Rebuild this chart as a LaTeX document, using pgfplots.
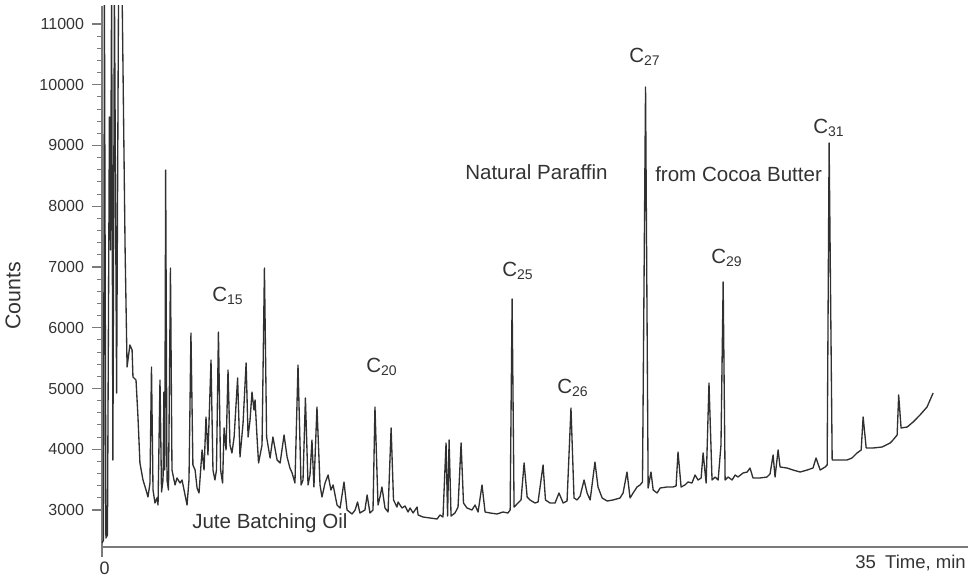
\documentclass[border=0pt]{standalone}
\usepackage{fontspec}
\setmainfont{Liberation Sans}
\usepackage{pgfplots}
\pgfplotsset{compat=1.18}
\definecolor{trace}{HTML}{303030}
\definecolor{axgray}{HTML}{7A7A7A}
\definecolor{txt}{HTML}{333333}
\newcommand{\Cn}[1]{C\raisebox{-0.12em}{\fontsize{10.5}{12}\selectfont #1}}
\begin{document}
\begin{tikzpicture}
\useasboundingbox (-76.5pt,-24pt) rectangle (651.75pt,410.25pt);
\begin{axis}[
  at={(0pt,0pt)}, anchor=south west,
  scale only axis, width=649.5pt, height=405.75pt,
  xmin=0, xmax=39.72, ymin=2391, ymax=11296,
  axis x line=bottom, axis y line=left,
  axis line style={axgray, line width=1pt, -},
  xtick={0}, ytick={3000,4000,...,11000},
  minor y tick num=4,
  scaled y ticks=false,
  tick align=outside,
  major tick length=7.5pt, minor tick length=3.75pt,
  tick style={axgray, line width=0.8pt},
  /pgf/number format/assume math mode=true,
  /pgf/number format/set thousands separator={},
  yticklabel style={font=\fontsize{12}{14}\selectfont, text=txt, xshift=-2.5pt},
  xticklabel style={font=\fontsize{13.5}{15}\selectfont, text=txt, xshift=2pt},
  clip=true,
]
\addplot[trace, line width=1pt, line join=round] table {
0.00 2457
0.07 2506
0.11 11600
0.18 2539
0.25 2589
0.34 9469
0.39 7280
0.44 11600
0.50 3823
0.57 11600
0.67 4926
0.76 11600
0.92 11600
1.06 7280
1.15 5354
1.28 5716
1.38 5634
1.42 5189
1.56 5140
1.65 4531
1.74 3774
1.88 3494
2.02 3329
2.11 3214
2.20 3444
2.27 5354
2.34 3329
2.43 3115
2.52 3198
2.57 3082
2.66 5140
2.73 3296
2.80 3494
2.84 4942
2.88 3658
2.92 8596
2.98 3494
3.05 3329
3.14 6983
3.21 3658
3.35 3412
3.44 3527
3.58 3444
3.67 3494
3.81 3247
3.90 3082
3.99 3494
4.08 5913
4.17 3741
4.27 3658
4.36 3362
4.45 3280
4.59 3988
4.68 3658
4.77 4531
4.86 3905
5.00 5469
5.09 3658
5.18 3494
5.25 3658
5.34 5930
5.44 3658
5.53 3444
5.60 4350
5.69 3988
5.78 5304
5.87 4070
5.96 3938
6.06 4202
6.22 5173
6.33 3872
6.47 4432
6.61 5420
6.70 4202
6.79 4481
6.88 4942
6.97 4646
7.02 4811
7.11 4202
7.18 3774
7.34 4070
7.45 6983
7.55 4202
7.71 3856
7.84 4202
8.03 3823
8.17 3774
8.35 4235
8.49 3872
8.62 3691
8.72 3609
8.85 3444
8.99 5387
9.13 3412
9.22 3494
9.33 4844
9.45 3412
9.54 3576
9.63 4152
9.72 3379
9.86 4695
10.00 3412
10.09 3214
10.23 3444
10.37 3576
10.50 3329
10.60 3412
10.78 3082
10.92 3033
11.10 3461
11.24 3000
11.47 2934
11.61 3000
11.72 3132
11.83 2951
12.06 3000
12.16 3247
12.29 2951
12.43 3000
12.52 4695
12.66 3082
12.75 3214
12.84 3379
12.98 3033
13.12 2967
13.26 4350
13.37 3165
13.53 3049
13.58 3132
13.76 3033
13.90 3066
14.04 2967
14.13 3033
14.27 2951
14.45 3049
14.50 2918
14.72 2885
15.05 2868
15.37 2852
15.50 2918
15.64 2885
15.78 4103
15.85 2901
15.92 4152
16.01 2901
16.19 2951
16.33 3049
16.47 4103
16.58 3115
16.74 3033
16.97 3000
17.11 3082
17.25 2967
17.43 3412
17.57 2967
17.80 2951
18.12 2934
18.39 2967
18.62 2951
18.72 3000
18.81 6473
18.90 3049
19.08 3115
19.22 3165
19.36 3774
19.50 3214
19.63 3165
19.86 3115
20.00 3132
20.23 3741
20.34 3165
20.55 3115
20.78 3115
20.96 3280
21.15 3115
21.33 3148
21.51 4679
21.65 3198
21.79 3165
21.93 3230
22.11 3494
22.25 3280
22.39 3165
22.61 3790
22.75 3379
22.94 3198
23.17 3148
23.44 3165
23.76 3198
23.90 3280
24.08 3625
24.22 3198
24.36 3280
24.54 3379
24.68 3412
24.79 3461
24.93 9963
25.05 3362
25.18 3625
25.28 3329
25.46 3280
25.60 3362
25.92 3379
26.19 3379
26.33 3395
26.42 3955
26.56 3379
26.74 3412
26.88 3461
27.06 3444
27.20 3576
27.34 3494
27.48 3527
27.57 3938
27.71 3444
27.84 5090
27.98 3494
28.12 3543
28.26 3494
28.39 4070
28.49 6753
28.58 3494
28.72 3543
28.90 3494
29.04 3576
29.17 3543
29.40 3609
29.59 3625
29.72 3691
29.86 3527
30.18 3527
30.50 3543
30.64 3593
30.78 3905
30.87 3543
31.01 3988
31.10 3708
31.42 3691
31.70 3658
32.02 3625
32.34 3658
32.61 3691
32.75 3856
32.94 3658
33.17 3708
33.26 3741
33.35 9041
33.49 3823
33.85 3823
34.17 3823
34.40 3856
34.63 3938
34.82 3988
34.91 4531
35.05 4021
35.37 4021
35.78 4037
36.15 4103
36.28 4152
36.47 4235
36.54 4893
36.65 4350
36.93 4366
37.20 4448
37.52 4564
37.84 4695
38.12 4926
};
\end{axis}
\begin{scope}[every node/.style={inner sep=0pt, text=txt, font=\fontsize{15.4}{18}\selectfont}]
\node[anchor=west] at (82.5pt,188.25pt) {\Cn{15}};
\node[anchor=west] at (198pt,135pt) {\Cn{20}};
\node[anchor=west] at (300pt,207pt) {\Cn{25}};
\node[anchor=west] at (341.25pt,119.25pt) {\Cn{26}};
\node[anchor=west] at (395.25pt,367.5pt) {\Cn{27}};
\node[anchor=west] at (456.75pt,216.75pt) {\Cn{29}};
\node[anchor=west] at (533.25pt,314.25pt) {\Cn{31}};
\node[anchor=west] at (272.25pt,281.25pt) {Natural Paraffin};
\node[anchor=west] at (414.75pt,279.75pt) {from Cocoa Butter};
\node[anchor=west] at (67.5pt,18pt) {Jute Batching Oil};
\node[anchor=center, rotate=90, font=\fontsize{16}{18}\selectfont] at (-66.75pt,188.25pt) {Counts};
\node[anchor=west, font=\fontsize{13.9}{16}\selectfont] at (564.75pt,-12pt) {35\hspace{0.5em}Time, min};
\end{scope}
\end{tikzpicture}
\end{document}
